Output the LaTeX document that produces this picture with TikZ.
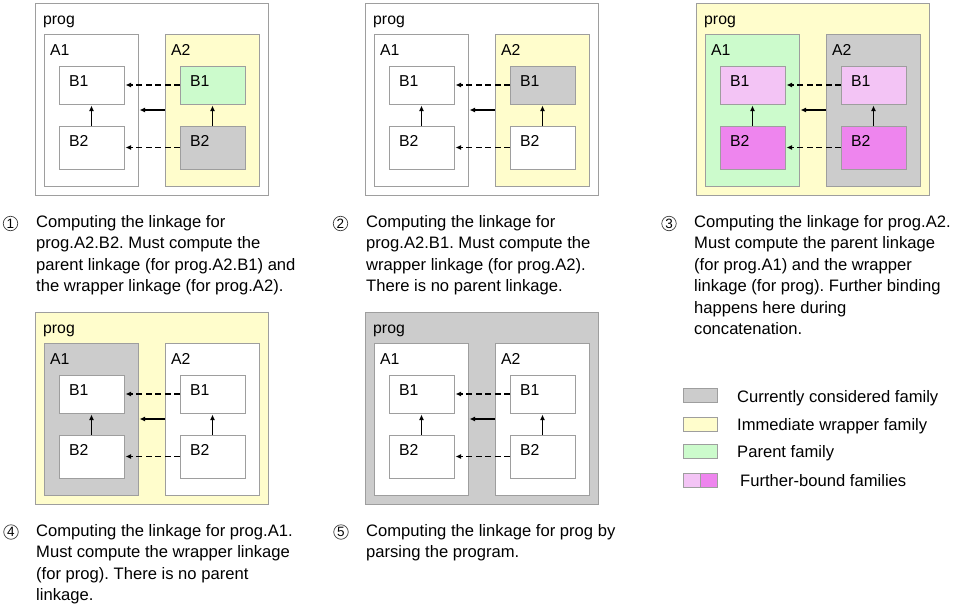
\documentclass[tikz,border=0pt]{standalone}
\usepackage{fontspec}
\setmainfont{Liberation Sans}
\usetikzlibrary{arrows.meta}
\frenchspacing

\definecolor{boxline}{HTML}{9E9E9E}
\definecolor{gry}{HTML}{CCCCCC}
\definecolor{yel}{HTML}{FFFDCC}
\definecolor{grn}{HTML}{CCFBCC}
\definecolor{pnk}{HTML}{F3C4F5}
\definecolor{mag}{HTML}{EE85EE}

\tikzset{
  box/.style={draw=boxline, line width=0.8pt, inner sep=0pt, outer sep=0pt, anchor=north west},
  progbox/.style={box, minimum width=233pt, minimum height=192pt},
  abox/.style={box, minimum width=94pt, minimum height=152pt},
  bbox/.style={box, minimum width=65pt},
  lbl/.style={anchor=base west, inner sep=0pt, font=\fontsize{15.8}{18}\selectfont},
  caption/.style={anchor=base west, inner sep=0pt, align=left, font=\fontsize{16.6}{21.5}\selectfont},
  stepno/.style={circle, draw=black!75, line width=0.7pt, minimum size=14.5pt, inner sep=0pt, font=\fontsize{13.5}{13.5}\selectfont},
  link/.style={-{Latex[length=5.5pt,width=5pt]}, line width=1.4pt, shorten >=1.5pt},
  dlink/.style={link, dash pattern=on 6pt off 3.5pt},
  swatch/.style={box, minimum width=34pt, minimum height=14pt}
}

\begin{document}
\begin{tikzpicture}[x=1pt, y=-1pt]
  \useasboundingbox (0,0) rectangle (959,603);

  % one panel per step: prog, A1, A2, A1.B1, A1.B2, A2.B1, A2.B2
  \foreach \n/\x/\y/\cp/\ca/\cb/\caa/\cab/\cba/\cbb in {
      1/35/3/white/white/yel/white/white/grn/gry,
      2/365/3/white/white/yel/white/white/gry/white,
      3/696/3/yel/grn/gry/pnk/mag/pnk/mag,
      4/35/312/yel/gry/white/white/white/white/white,
      5/365/312/gry/white/white/white/white/white/white} {
    \node[progbox, fill=\cp] (prog-\n) at (\x,\y) {};
    \node[abox, fill=\ca] (a1-\n) at (\x+9,\y+31) {};
    \node[abox, fill=\cb] (a2-\n) at (\x+130,\y+31) {};
    \node[bbox, fill=\caa, minimum height=38pt] (a1b1-\n) at (\x+24,\y+63) {};
    \node[bbox, fill=\cab, minimum height=43pt] (a1b2-\n) at (\x+24,\y+123) {};
    \node[bbox, fill=\cba, minimum height=38pt] (a2b1-\n) at (\x+145,\y+63) {};
    \node[bbox, fill=\cbb, minimum height=43pt] (a2b2-\n) at (\x+145,\y+123) {};
    \node[lbl] (tprog-\n) at (\x+8,\y+21) {prog};
    \node[lbl] (ta1-\n) at (\x+15,\y+52) {A1};
    \node[lbl] (ta2-\n) at (\x+136,\y+52) {A2};
    \node[lbl] (ta1b1-\n) at (\x+34,\y+83) {B1};
    \node[lbl] (ta1b2-\n) at (\x+34,\y+143) {B2};
    \node[lbl] (ta2b1-\n) at (\x+155,\y+83) {B1};
    \node[lbl] (ta2b2-\n) at (\x+155,\y+143) {B2};
    \draw[link] (a1b2-\n.north) -- (a1b1-\n.south);
    \draw[link] (a2b2-\n.north) -- (a2b1-\n.south);
    \draw[link] (a2-\n.west) -- (a1-\n.east);
    \draw[dlink] (a2b1-\n.west) -- (a1b1-\n.east);
    \draw[dlink] (a2b2-\n.west) -- (a1b2-\n.east);
  }

  % captions (placed at the baseline of their last line)
  \node[caption] (cap1) at (36,291.5) {Computing the linkage for\\prog.A2.B2. Must compute the\\parent linkage (for prog.A2.B1) and\\the wrapper linkage (for prog.A2).};
  \node[caption] (cap2) at (366,291.5) {Computing the linkage for\\prog.A2.B1. Must compute the\\wrapper linkage (for prog.A2).\\There is no parent linkage.};
  \node[caption] (cap3) at (694,334.5) {Computing the linkage for prog.A2.\\Must compute the parent linkage\\(for prog.A1) and the wrapper\\linkage (for prog). Further binding\\happens here during\\concatenation.};
  \node[caption] (cap4) at (36,600.5) {Computing the linkage for prog.A1.\\Must compute the wrapper linkage\\(for prog). There is no parent\\linkage.};
  \node[caption] (cap5) at (366,557.5) {Computing the linkage for prog by\\parsing the program.};
  \foreach \n/\x/\y in {1/10.5/223.5, 2/340.5/223.5, 3/669/223.5, 4/11/532, 5/341/532}
    \node[stepno] (no\n) at (\x,\y) {\n};

  % legend
  \node[swatch, fill=gry] (sw1) at (683,388) {};
  \node[swatch, fill=yel] (sw2) at (683,417) {};
  \node[swatch, fill=grn] (sw3) at (683,444) {};
  \node[swatch, fill=pnk, minimum width=17pt] (sw4a) at (683,473) {};
  \node[swatch, fill=mag, minimum width=17pt] (sw4b) at (700,473) {};
  \node[caption] (lg1) at (737,402) {Currently considered family};
  \node[caption] (lg2) at (737,430) {Immediate wrapper family};
  \node[caption] (lg3) at (737,457) {Parent family};
  \node[caption] (lg4) at (740,486) {Further-bound families};
\end{tikzpicture}
\end{document}
